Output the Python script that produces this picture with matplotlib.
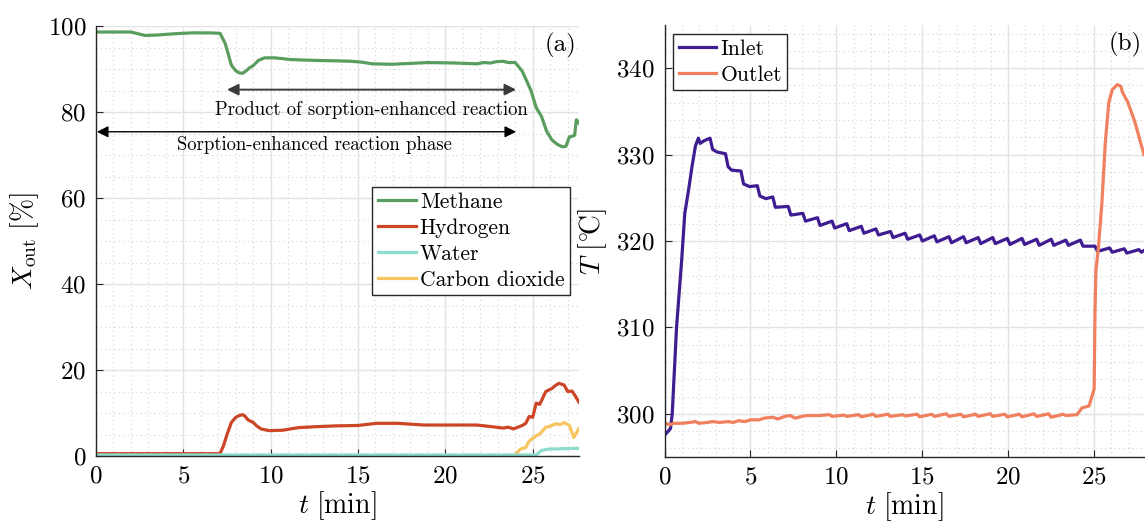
import matplotlib
matplotlib.use('Agg')
import matplotlib.pyplot as plt
from matplotlib.ticker import MultipleLocator

plt.rcParams['font.family'] = 'serif'
plt.rcParams['font.serif'] = ['cmr10']
plt.rcParams['mathtext.fontset'] = 'cm'
plt.rcParams['axes.formatter.use_mathtext'] = True

# ---- panel (a): outlet composition ----
t_ch4 = [0, 2.0, 2.4, 2.8, 3.5, 4.5, 5.5, 6.5, 7.1, 7.4, 7.75, 8.0, 8.2, 8.4, 8.6, 8.8,
         9.0, 9.3, 9.65, 10.2, 10.7, 11.1, 12.5, 13.7, 14.6, 15.2, 15.8, 16.9, 18.0, 19.0,
         20.5, 21.8, 22.2, 22.6, 22.9, 23.3, 23.6, 24.0, 24.4, 24.9, 25.2, 25.5, 25.8, 26.1,
         26.4, 26.7, 26.9, 27.1, 27.3, 27.4, 27.5, 27.65]
x_ch4 = [98.6, 98.6, 98.2, 97.8, 97.9, 98.2, 98.4, 98.4, 98.3, 95.9, 90.9, 89.6, 89.1, 89.0, 89.6, 90.3,
         90.8, 92.0, 92.6, 92.6, 92.4, 92.2, 92.0, 91.9, 91.8, 91.6, 91.2, 91.1, 91.3, 91.5,
         91.4, 91.2, 91.5, 91.4, 91.7, 91.8, 91.5, 91.5, 89.5, 85.0, 81.0, 79.0, 75.5, 73.5,
         72.5, 71.9, 72.0, 74.2, 74.4, 74.6, 78.2, 77.4]

t_h2 = [0, 7.1, 7.3, 7.5, 7.75, 8.0, 8.2, 8.35, 8.5, 8.7, 9.0, 9.2, 9.45, 9.9, 10.7, 11.0,
        11.6, 12.5, 13.7, 15.0, 16.05, 17.3, 18.0, 18.8, 20.0, 21.8, 22.7, 23.3, 23.6, 23.9,
        24.4, 24.6, 24.8, 25.0, 25.2, 25.4, 25.75, 26.1, 26.3, 26.5, 26.8, 27.0, 27.25, 27.4, 27.65]
x_h2 = [0.55, 0.55, 2.4, 5.0, 7.8, 9.0, 9.4, 9.6, 9.4, 8.4, 7.8, 7.0, 6.3, 5.9, 6.0, 6.2,
        6.6, 6.8, 7.0, 7.1, 7.6, 7.6, 7.4, 7.2, 7.2, 7.2, 6.8, 6.5, 6.7, 6.3,
        7.1, 7.6, 9.2, 9.0, 12.3, 12.0, 15.0, 15.7, 16.4, 16.9, 16.5, 15.0, 15.1, 14.2, 12.5]

t_h2o = [0, 25.2, 25.5, 25.9, 27.65]
x_h2o = [0.25, 0.25, 1.3, 1.6, 1.8]

t_co2 = [0, 23.9, 24.3, 24.6, 24.8, 25.2, 25.4, 25.75, 26.0, 26.3, 26.6, 26.8, 27.1, 27.35, 27.65]
x_co2 = [0, 0, 1.6, 2.0, 3.5, 4.7, 5.1, 6.7, 6.9, 7.5, 7.3, 7.8, 7.1, 4.3, 6.4]

# ---- panel (b): temperatures ----
t_in = [0, 0.35, 0.45, 0.7, 1.0, 1.18, 1.4, 1.6, 1.8, 1.97, 2.08, 2.3, 2.65, 2.8, 3.06,
        3.55, 3.7, 3.9, 4.45, 4.6, 4.95, 5.4, 5.55, 5.9, 6.3, 6.45, 7.2, 7.35, 8.05, 8.2,
        8.9, 9.05, 9.75, 9.9, 10.6, 10.75, 11.45, 11.6, 12.3, 12.45, 13.15, 13.3, 14.0, 14.15,
        14.85, 15.0, 15.7, 15.85, 16.55, 16.7, 17.4, 17.55, 18.25, 18.4, 19.1, 19.25, 19.95,
        20.1, 20.8, 20.95, 21.65, 21.8, 22.5, 22.65, 23.35, 23.5, 24.2, 24.35, 25.05, 25.2,
        25.9, 26.05, 26.75, 26.9, 27.6, 27.75, 27.9]
T_in = [297.5, 298.3, 300.0, 310.0, 317.8, 323.2, 325.9, 328.6, 331.0, 331.9, 331.3, 331.6, 331.9, 330.6, 330.3,
        330.1, 328.6, 328.2, 328.1, 326.6, 326.3, 326.4, 325.2, 324.9, 325.1, 323.9, 324.0, 323.0, 323.2, 322.3,
        322.7, 321.8, 322.3, 321.5, 322.0, 321.2, 321.7, 320.9, 321.4, 320.7, 321.1, 320.4, 320.9, 320.2,
        320.7, 320.0, 320.6, 319.9, 320.5, 319.8, 320.5, 319.8, 320.4, 319.7, 320.4, 319.7, 320.3,
        319.6, 320.3, 319.6, 320.2, 319.5, 320.2, 319.5, 320.1, 319.5, 320.1, 319.4, 319.4, 318.8,
        319.2, 318.7, 319.1, 318.6, 319.0, 318.7, 318.9]

t_out = [0, 0.3, 0.5, 1.0, 1.5, 1.8, 2.0, 2.5, 2.8, 3.2, 3.7, 4.0, 4.3, 4.7, 5.0, 5.5,
         5.8, 6.3, 6.6, 7.0, 7.3, 7.6, 8.0, 8.3, 9.0, 9.6, 9.75, 10.45, 10.6, 11.3, 11.45,
         12.15, 12.3, 13.0, 13.15, 13.85, 14.0, 14.7, 14.85, 15.55, 15.7, 16.4, 16.55, 17.25,
         17.4, 18.1, 18.25, 18.95, 19.1, 19.8, 19.95, 20.65, 20.8, 21.5, 21.65, 22.35, 22.5,
         23.2, 23.35, 24.0, 24.3, 24.7, 25.0, 25.05, 25.1, 25.25, 25.45, 25.65, 25.85, 26.05,
         26.35, 26.55, 26.65, 26.95, 27.15, 27.35, 27.55, 27.7, 27.9]
T_out = [299.0, 298.7, 298.9, 298.9, 299.0, 299.1, 298.9, 299.0, 299.1, 299.0, 299.1, 299.0, 299.2, 299.1, 299.3, 299.3,
         299.5, 299.6, 299.4, 299.7, 299.8, 299.5, 299.7, 299.8, 299.8, 299.9, 299.7, 299.85, 299.7, 299.9, 299.65,
         299.95, 299.7, 299.95, 299.7, 299.9, 299.75, 299.95, 299.65, 299.95, 299.7, 300.0, 299.7, 299.95,
         299.65, 299.95, 299.7, 300.0, 299.7, 299.95, 299.65, 299.95, 299.65, 300.0, 299.7, 300.0, 299.6,
         299.95, 299.8, 299.9, 300.7, 300.9, 302.9, 312.0, 316.5, 319.3, 324.4, 331.4, 336.0, 337.5,
         338.1, 337.9, 337.2, 336.1, 335.0, 333.9, 332.5, 331.4, 330.0]

c_ch4, c_h2, c_h2o, c_co2 = '#5a9e5f', '#cd4527', '#8edccb', '#f6c55f'
c_in, c_out = '#3f1c91', '#f0805e'


def style_axes(ax):
    for s in ['top', 'right']:
        ax.spines[s].set_visible(False)
    for s in ['left', 'bottom']:
        ax.spines[s].set_color('#262626')
        ax.spines[s].set_linewidth(1.0)
    ax.grid(which='major', color='#e3e3e3', lw=1.0, ls='-')
    ax.grid(which='minor', color='#d2d2d2', lw=0.8, ls=(0, (1, 3)))
    ax.set_axisbelow(True)
    ax.tick_params(which='major', direction='in', length=5, labelsize=18, color='#262626', pad=7)
    ax.tick_params(which='minor', length=0)
    ax.xaxis.set_major_locator(MultipleLocator(5))
    ax.xaxis.set_minor_locator(MultipleLocator(1))


def add_legend(ax, **kw):
    leg = ax.legend(fontsize=15.5, frameon=True, fancybox=False, edgecolor='#262626',
                    framealpha=1, handlelength=1.75, handletextpad=0.2,
                    labelspacing=0.3, borderpad=0.25, borderaxespad=0, **kw)
    leg.get_frame().set_linewidth(1.0)
    return leg


fig = plt.figure(figsize=(11.45, 5.25), dpi=100)
ax1 = fig.add_axes([96 / 1145, 69 / 525, 483 / 1145, 430 / 525])
ax2 = fig.add_axes([664.5 / 1145, 68 / 525, 479.5 / 1145, 432 / 525])

lw = 2.3
ax1.plot(t_ch4, x_ch4, color=c_ch4, lw=lw, label='Methane')
ax1.plot(t_h2, x_h2, color=c_h2, lw=lw, label='Hydrogen')
ax1.plot(t_h2o, x_h2o, color=c_h2o, lw=lw, label='Water')
ax1.plot(t_co2, x_co2, color=c_co2, lw=lw, label='Carbon dioxide', zorder=1.9)
style_axes(ax1)
ax1.set_xlim(0, 27.65)
ax1.set_ylim(0, 100)
ax1.yaxis.set_major_locator(MultipleLocator(20))
ax1.yaxis.set_minor_locator(MultipleLocator(5))
ax1.set_xlabel(r'$t\ [\mathrm{min}]$', fontsize=20, labelpad=1)
ax1.set_ylabel(r'$X_{\mathrm{out}}\ [\%]$', fontsize=20, labelpad=5)
ax1.text(0.995, 0.955, '(a)', transform=ax1.transAxes, ha='right', va='center', fontsize=18)

ax1.annotate('', xy=(24.05, 85.2), xytext=(7.5, 85.2),
             arrowprops=dict(arrowstyle='<|-|>', color='#3a3a3a', lw=1.4,
                             mutation_scale=17, shrinkA=0, shrinkB=0))
ax1.text(15.75, 80.4, 'Product of sorption-enhanced reaction', ha='center', va='center', fontsize=13.5)
ax1.annotate('', xy=(24.05, 75.4), xytext=(0.05, 75.4),
             arrowprops=dict(arrowstyle='<|-|>', color='black', lw=1.0,
                             mutation_scale=17, shrinkA=0, shrinkB=0))
ax1.text(12.5, 72.3, 'Sorption-enhanced reaction phase', ha='center', va='center', fontsize=13.5)
add_legend(ax1, loc='upper right', bbox_to_anchor=(0.981, 0.626))

ax2.plot(t_in, T_in, color=c_in, lw=lw, label='Inlet')
ax2.plot(t_out, T_out, color=c_out, lw=lw, label='Outlet')
style_axes(ax2)
ax2.set_xlim(0, 27.9)
ax2.set_ylim(295, 345)
ax2.yaxis.set_major_locator(MultipleLocator(10))
ax2.yaxis.set_minor_locator(MultipleLocator(2))
ax2.set_xlabel(r'$t\ [\mathrm{min}]$', fontsize=20, labelpad=1)
ax2.set_ylabel(r'$T\ [^{\circ}\!\mathrm{C}]$', fontsize=20, labelpad=5)
ax2.text(0.995, 0.955, '(b)', transform=ax2.transAxes, ha='right', va='center', fontsize=18)
add_legend(ax2, loc='upper left', bbox_to_anchor=(0.018, 0.979))

fig.savefig('out.png', dpi=100)
